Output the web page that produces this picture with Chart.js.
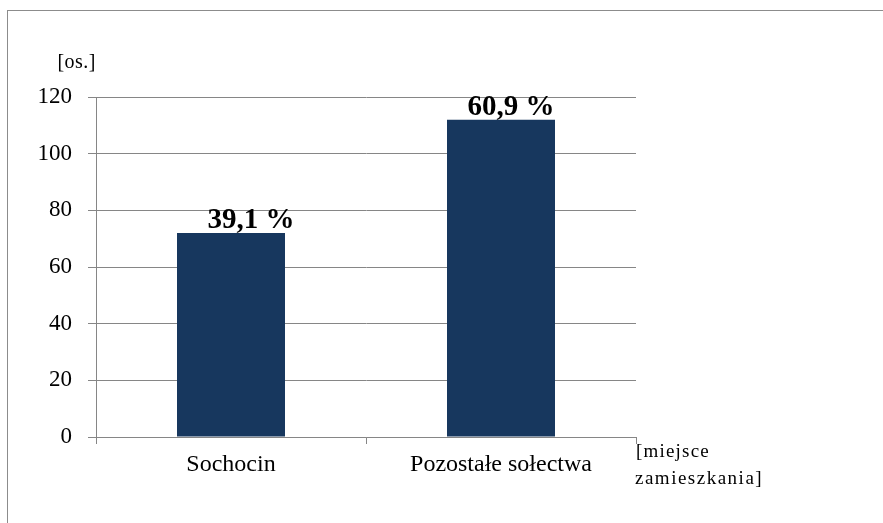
<!DOCTYPE html>
<html>
<head>
<meta charset="utf-8">
<script src="https://cdn.jsdelivr.net/npm/chart.js@4"></script>
<style>
  html, body { margin: 0; padding: 0; background: #fff; overflow: hidden; }
</style>
</head>
<body>
<canvas id="mieszkancy" width="883" height="523"></canvas>
<script>
  // dane
  const categories = ['Sochocin', 'Pozostałe sołectwa'];
  const residents = [72, 112];
  const shareLabels = ['39,1 %', '60,9 %'];
  const yMin = 0;
  const yMax = 120;
  const yStep = 20;

  const serif = "'Liberation Serif', 'Times New Roman', serif";
  const gridGray = '#868686';

  // ramka, opisy osi i etykiety procentowe
  const extras = {
    id: 'extras',
    beforeDraw(chart) {
      const ctx = chart.ctx;
      ctx.save();
      ctx.strokeStyle = '#8c8c8c';
      ctx.lineWidth = 1;
      ctx.strokeRect(7.5, 10.5, 1000, 1000);
      ctx.restore();
    },
    afterDraw(chart, args, opts) {
      const ctx = chart.ctx;
      const area = chart.chartArea;
      ctx.save();
      ctx.fillStyle = '#000';
      ctx.textBaseline = 'alphabetic';

      // [os.]
      ctx.font = '20px ' + serif;
      ctx.textAlign = 'right';
      ctx.letterSpacing = '0.5px';
      ctx.fillText('[os.]', area.left, area.top - 29);

      // [miejsce zamieszkania]
      ctx.textAlign = 'left';
      ctx.letterSpacing = '1.2px';
      ctx.font = '19px ' + serif;
      ctx.fillText('[miejsce', area.right, area.bottom + 20);
      ctx.letterSpacing = '1.5px';
      ctx.fillText('zamieszkania]', area.right - 1, area.bottom + 47);
      ctx.letterSpacing = '0px';

      // etykiety nad słupkami
      ctx.font = 'bold 29px ' + serif;
      ctx.textAlign = 'center';
      const meta = chart.getDatasetMeta(0);
      meta.data.forEach((bar, i) => {
        ctx.fillText(shareLabels[i], bar.x + opts.shift[i], bar.y - 5);
      });
      ctx.restore();
    }
  };

  const config = {
    type: 'bar',
    data: {
      labels: categories,
      datasets: [{
        data: residents,
        backgroundColor: '#17375E',
        borderWidth: 0,
        barPercentage: 0.4,
        categoryPercentage: 1.0
      }]
    },
    options: {
      responsive: false,
      animation: false,
      devicePixelRatio: 1,
      layout: {
        padding: { left: 0, top: 97, right: 247, bottom: 0 }
      },
      plugins: {
        legend: { display: false },
        tooltip: { enabled: false },
        extras: { shift: [20, 10] }
      },
      scales: {
        x: {
          afterFit(scale) { scale.height = 86; },
          grid: {
            offset: true,
            drawOnChartArea: false,
            drawTicks: true,
            tickLength: 7,
            color: gridGray
          },
          border: { color: gridGray },
          ticks: {
            color: '#000',
            padding: 6,
            font: { family: serif, size: 24 }
          }
        },
        y: {
          min: yMin,
          max: yMax,
          afterFit(scale) { scale.width = 96; },
          grid: {
            color: gridGray,
            tickLength: 8
          },
          border: { color: gridGray },
          ticks: {
            stepSize: yStep,
            color: '#000',
            padding: 16,
            font: { family: serif, size: 23 }
          }
        }
      }
    },
    plugins: [extras]
  };

  var chart = new Chart(document.getElementById('mieszkancy'), config);
</script>
</body>
</html>
